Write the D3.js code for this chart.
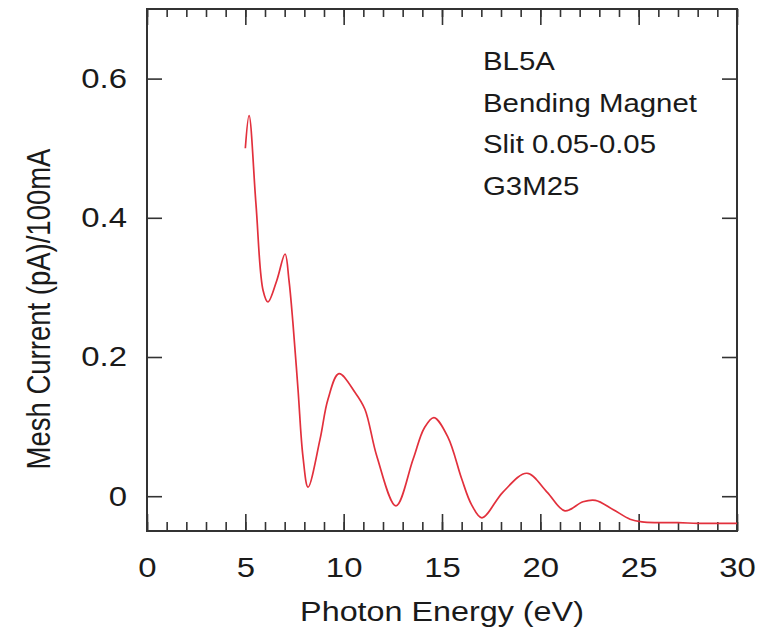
<!DOCTYPE html>
<html>
<head>
<meta charset="utf-8">
<script src="https://cdn.jsdelivr.net/npm/d3@7"></script>
<style>
  html, body { margin: 0; padding: 0; background: #fff; }
  svg { display: block; }
  text { font-family: "Liberation Sans", Arial, Helvetica, sans-serif; fill: #1a1a1a; }
</style>
</head>
<body>
<svg id="chart" width="767" height="637"></svg>
<script>
// Mesh current spectrum measured on the beamline
const energy = [5.0, 5.19, 5.54, 5.90, 6.15, 6.60, 7.02, 7.22, 7.42, 7.68, 7.93, 8.19,
                8.80, 9.20, 9.76, 10.58, 11.08, 11.69, 12.66, 13.53, 14.10, 14.59, 15.30, 16.00,
                16.50, 17.03, 18.10, 19.32, 20.34, 21.25, 22.17, 22.80, 23.69, 24.56, 25.17,
                26.0, 27.0, 28.0, 29.0, 30.0];
const current = [0.500, 0.547, 0.420, 0.296, 0.279, 0.310, 0.348, 0.310, 0.249, 0.153, 0.057, 0.013,
                 0.082, 0.139, 0.176, 0.149, 0.125, 0.057, -0.014, 0.053, 0.098, 0.113, 0.085, 0.025,
                 -0.012, -0.031, 0.006, 0.033, 0.006, -0.021, -0.008, -0.006, -0.019, -0.033, -0.037,
                 -0.038, -0.038, -0.039, -0.039, -0.039];

const xMajorTicks = [0, 5, 10, 15, 20, 25, 30];
const xMinorTicks = d3.range(0, 31, 1);
const yMajorTicks = [0, 0.2, 0.4, 0.6];
const annotation = ["BL5A", "Bending Magnet", "Slit 0.05-0.05", "G3M25"];

const margin = { left: 147, top: 9, right: 30, bottom: 106 };
const W = 767, H = 637;
const iw = W - margin.left - margin.right;
const ih = H - margin.top - margin.bottom;

const svg = d3.select("#chart");
const g = svg.append("g").attr("transform", `translate(${margin.left},${margin.top})`);

const x = d3.scaleLinear().domain([0, 30]).range([0, iw]);
const y = d3.scaleLinear().domain([-0.05, 0.7]).range([ih, 0]);

const axisColor = "#333";
const sx = 1.175; // horizontal stretch of the lettering
const tickFont = 28;

function styleAxis(sel) {
  sel.select(".domain").remove();
  sel.selectAll(".tick line").attr("stroke", axisColor).attr("stroke-width", 1.6);
  sel.selectAll(".tick text").attr("font-size", tickFont).attr("fill", "#1a1a1a")
     .style("font-family", '"Liberation Sans", Arial, sans-serif');
}

// bottom minor ticks
g.append("g").attr("transform", `translate(0,${ih})`)
  .call(d3.axisBottom(x).tickValues(xMinorTicks).tickSizeInner(-9).tickSizeOuter(0).tickFormat(""))
  .call(styleAxis);
// bottom major ticks with labels
const xb = g.append("g").attr("transform", `translate(0,${ih})`)
  .call(d3.axisBottom(x).tickValues(xMajorTicks).tickSizeInner(-17).tickSizeOuter(0).tickPadding(26).tickFormat(d3.format("d")))
  .call(styleAxis);
xb.selectAll(".tick text").attr("transform", `scale(${sx},1)`);
// top mirror ticks
g.append("g")
  .call(d3.axisTop(x).tickValues(xMinorTicks).tickSizeInner(-8).tickSizeOuter(0).tickFormat(""))
  .call(styleAxis);
g.append("g")
  .call(d3.axisTop(x).tickValues(xMajorTicks).tickSizeInner(-16).tickSizeOuter(0).tickFormat(""))
  .call(styleAxis);

// left ticks with labels
const yl = g.append("g")
  .call(d3.axisLeft(y).tickValues(yMajorTicks).tickSizeInner(-15).tickSizeOuter(0).tickPadding(20)
        .tickFormat(d => d === 0 ? "0" : d3.format(".1f")(d)))
  .call(styleAxis);
yl.selectAll(".tick text").attr("transform", `translate(-20,0) scale(${sx},1)`).attr("x", 0);
// right mirror ticks
g.append("g").attr("transform", `translate(${iw},0)`)
  .call(d3.axisRight(y).tickValues(yMajorTicks).tickSizeInner(-15).tickSizeOuter(0).tickFormat(""))
  .call(styleAxis);

// frame
g.append("rect").attr("x", 0).attr("y", 0).attr("width", iw).attr("height", ih)
  .attr("fill", "none").attr("stroke", axisColor).attr("stroke-width", 2);

// spectrum curve
const line = d3.line()
  .x((d, i) => x(energy[i]))
  .y(d => y(d))
  .curve(d3.curveCatmullRom.alpha(0.5));
g.append("path").datum(current)
  .attr("d", line)
  .attr("fill", "none")
  .attr("stroke", "#e2303c")
  .attr("stroke-width", 1.7)
  .attr("stroke-linejoin", "round");

// annotation block
const ann = g.append("g").attr("transform", `translate(${483 - margin.left},${70 - margin.top})`);
annotation.forEach((s, i) => {
  ann.append("text").attr("transform", `translate(0,${i * 41.5}) scale(${sx},1)`)
    .attr("font-size", 25).text(s);
});

// axis titles
svg.append("text")
  .attr("transform", `translate(${margin.left + iw / 2},${621}) scale(${sx},1)`)
  .attr("text-anchor", "middle").attr("font-size", 27.5)
  .text("Photon Energy (eV)");
svg.append("text")
  .attr("transform", `translate(${50},${309}) rotate(-90) scale(1,${sx})`)
  .attr("text-anchor", "middle").attr("font-size", 27.5)
  .text("Mesh Current (pA)/100mA");
</script>
</body>
</html>
